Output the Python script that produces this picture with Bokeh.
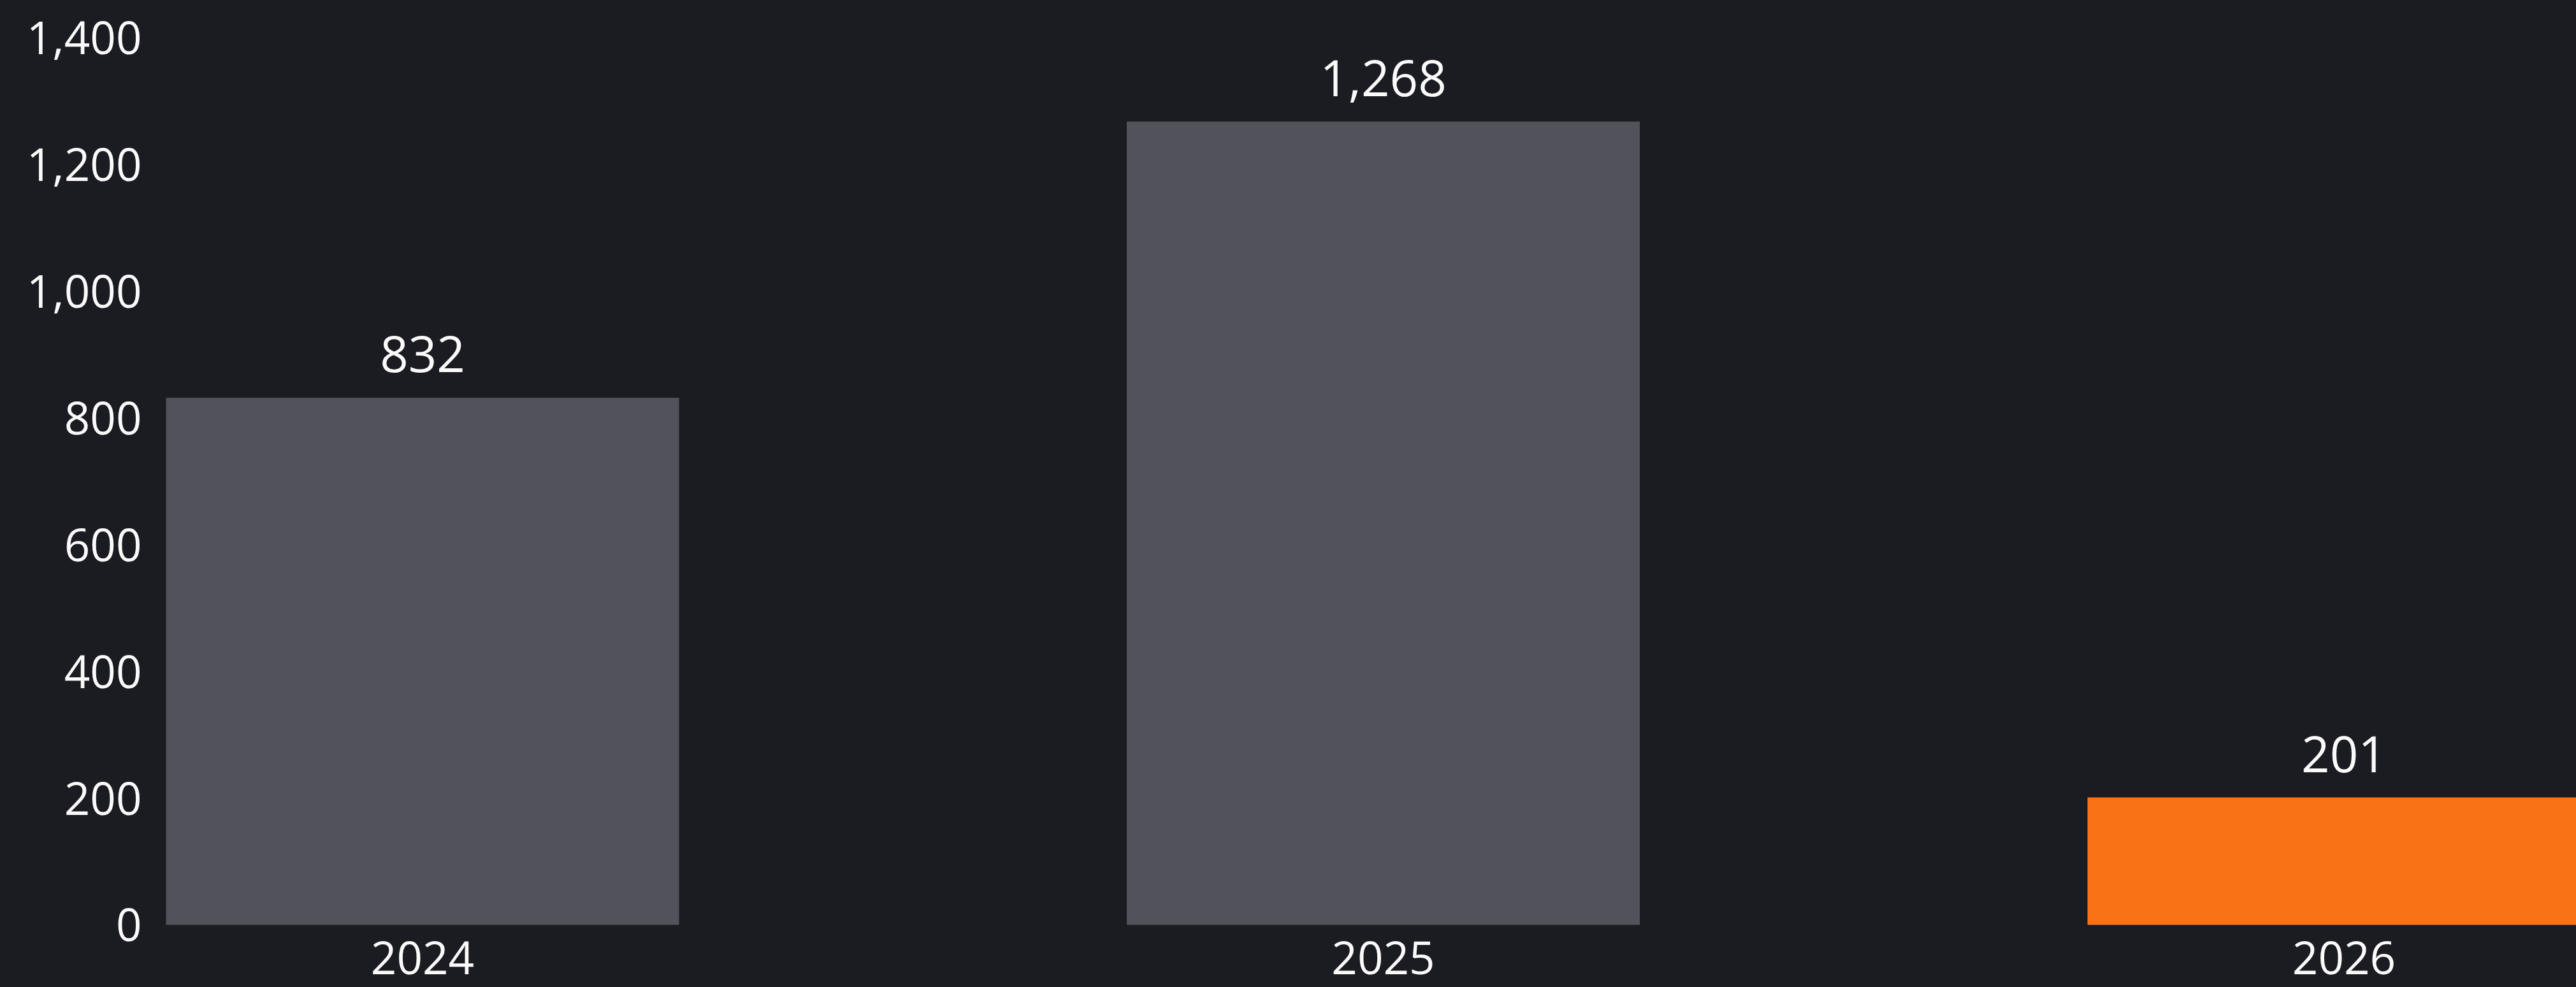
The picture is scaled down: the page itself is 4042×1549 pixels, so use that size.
from bokeh.plotting import figure
from bokeh.models import ColumnDataSource, Range1d, FixedTicker, NumeralTickFormatter, LabelSet
from bokeh.core.properties import value
from bokeh.embed import file_html
from bokeh.resources import INLINE

years = ["2024", "2025", "2026"]
values = [832, 1268, 201]
colors = ["#52525b", "#52525b", "#f97316"]
y_ticks = [0, 200, 400, 600, 800, 1000, 1200, 1400]

BG = "#1b1b22"
TXT = "#fafafa"
FONT = "Open Sans"

xs = list(range(len(years)))
src = ColumnDataSource(dict(
    x=xs, top=values, color=colors,
    label=[f"{v:,}" for v in values],
))

p = figure(width=4042, height=1549, output_backend="svg", toolbar_location=None,
           x_range=Range1d(-0.2856, 2.2418), y_range=Range1d(-98.6, 1459.3),
           min_border_left=232, min_border_right=0, min_border_top=0, min_border_bottom=0)
p.background_fill_color = BG
p.border_fill_color = BG
p.outline_line_color = None
p.grid.visible = False
p.styles = {"background-color": BG}

p.vbar(x="x", top="top", bottom=0, width=0.534, color="color", source=src, line_color=None)

labels = LabelSet(x="x", y="top", text="label", source=src, y_offset=40,
                  text_align="center", text_baseline="alphabetic",
                  text_font=value(FONT), text_font_size="78px", text_color=TXT)
p.add_layout(labels)

p.xaxis.ticker = FixedTicker(ticks=xs)
p.xaxis.major_label_overrides = {i: y for i, y in enumerate(years)}
p.xaxis.fixed_location = 0
p.yaxis.ticker = FixedTicker(ticks=y_ticks)
p.yaxis.formatter = NumeralTickFormatter(format="0,0")

for ax in (p.xaxis, p.yaxis):
    ax.axis_line_color = None
    ax.major_tick_line_color = None
    ax.minor_tick_line_color = None
    ax.major_tick_out = 0
    ax.major_tick_in = 0
    ax.minor_tick_out = 0
    ax.major_label_text_font = FONT
    ax.major_label_text_font_size = "71px"
    ax.major_label_text_color = TXT
p.xaxis.major_label_standoff = 26
p.yaxis.major_label_standoff = 10

html = file_html(p, INLINE)
css = "<style>html, body {margin:0; padding:0; background:%s;}</style>" % BG
html = html.replace("</head>", css + "</head>", 1)
open("out.html", "w").write(html)
